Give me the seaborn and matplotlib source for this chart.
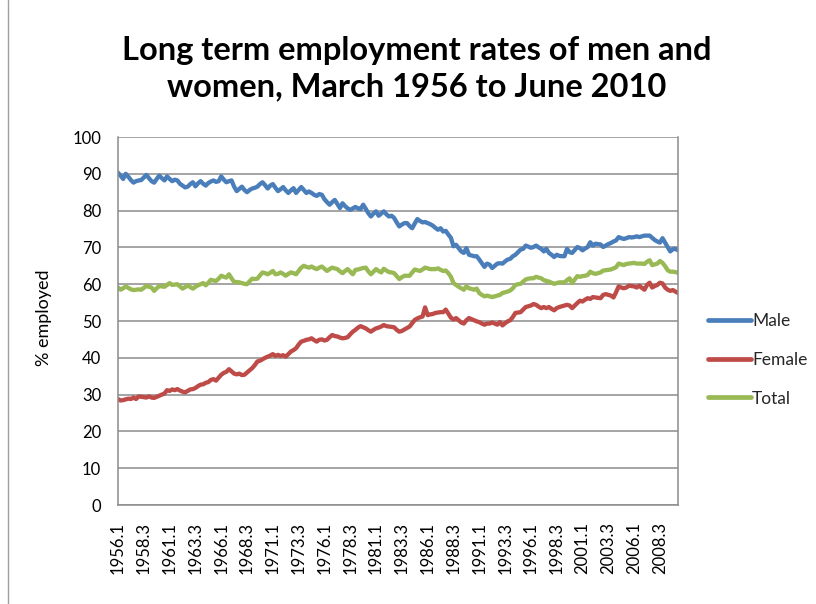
import matplotlib
matplotlib.use("Agg")
import matplotlib.pyplot as plt
import seaborn as sns
import pandas as pd
from matplotlib.lines import Line2D

# ---- data (quarterly, March 1956 .. June 2010) ----
male = [
    90.3, 89.5, 88.6, 90.0, 89.2, 88.3, 87.6, 88.0, 88.2, 88.3,
    89.0, 89.7, 88.8, 88.0, 87.6, 88.6, 89.5, 88.8, 88.2, 89.3,
    88.6, 88.0, 88.4, 88.2, 87.3, 86.8, 86.3, 86.5, 87.2, 87.7,
    86.6, 87.4, 88.0, 87.3, 86.8, 87.5, 87.9, 88.2, 87.8, 88.0,
    89.3, 88.4, 87.7, 88.0, 88.2, 86.5, 85.3, 85.9, 86.5, 85.6,
    85.0, 85.6, 86.0, 86.2, 86.5, 87.2, 87.7, 86.9, 86.0, 86.8,
    87.2, 86.2, 85.3, 85.8, 86.4, 85.5, 84.8, 85.5, 86.1, 84.8,
    85.6, 86.4, 85.6, 84.8, 85.2, 84.8, 84.3, 84.0, 84.5, 84.3,
    83.1, 82.3, 81.6, 82.3, 82.9, 81.8, 80.7, 82.0, 81.2, 80.6,
    80.2, 80.6, 81.0, 80.6, 80.4, 81.6, 80.5, 79.3, 78.4, 79.2,
    79.8, 78.6, 79.2, 79.8, 79.0, 78.4, 78.6, 78.0, 76.8, 75.7,
    76.2, 76.6, 76.6, 75.8, 75.2, 76.5, 77.7, 77.2, 76.8, 76.9,
    76.6, 76.3, 75.9, 75.3, 74.8, 75.2, 74.3, 74.5, 73.5, 72.6,
    70.3, 70.7, 69.8, 68.9, 68.5, 69.8, 68.0, 67.8, 67.6, 67.6,
    66.7, 65.7, 64.7, 65.6, 65.3, 64.4, 65.0, 65.6, 65.7, 65.6,
    66.2, 66.7, 66.9, 67.6, 68.0, 68.7, 69.4, 69.6, 70.5, 70.2,
    69.9, 70.1, 70.5, 70.0, 69.6, 68.9, 69.6, 68.5, 68.0, 67.4,
    68.0, 67.7, 67.6, 67.6, 69.6, 68.7, 68.5, 69.3, 70.1, 69.8,
    69.2, 69.7, 70.1, 71.4, 70.5, 71.0, 70.9, 70.8, 70.1, 70.5,
    70.9, 71.2, 71.6, 71.9, 72.8, 72.5, 72.3, 72.5, 72.8, 72.7,
    72.8, 73.0, 72.8, 73.0, 73.2, 73.2, 73.2, 72.6, 72.0, 71.6,
    71.3, 72.5, 71.3, 70.1, 68.9, 69.5, 69.6, 69.2,
]
female = [
    28.8, 28.4, 28.5, 28.7, 28.9, 28.8, 29.2, 28.8, 29.5, 29.4,
    29.3, 29.2, 29.5, 29.2, 29.1, 29.4, 29.7, 30.0, 30.3, 31.2,
    31.0, 31.4, 31.2, 31.5, 31.1, 30.8, 30.6, 31.0, 31.4, 31.5,
    31.8, 32.3, 32.7, 32.8, 33.2, 33.4, 34.0, 34.2, 33.8, 34.6,
    35.4, 35.9, 36.2, 36.9, 36.3, 35.7, 35.5, 35.7, 35.3, 35.4,
    36.0, 36.6, 37.2, 38.0, 39.0, 39.2, 39.6, 40.0, 40.3, 40.6,
    41.0, 40.5, 40.8, 40.5, 40.7, 40.3, 41.0, 41.7, 42.1, 42.6,
    43.6, 44.4, 44.6, 44.9, 45.0, 45.3, 44.8, 44.4, 44.9, 45.0,
    44.7, 44.9, 45.6, 46.2, 45.9, 45.8, 45.5, 45.3, 45.4, 45.6,
    46.4, 47.1, 47.6, 48.2, 48.6, 48.3, 48.0, 47.5, 47.1, 47.6,
    48.0, 48.2, 48.5, 48.9, 48.6, 48.5, 48.4, 48.3, 47.6, 47.1,
    47.3, 47.7, 48.1, 48.5, 49.4, 50.3, 50.7, 51.0, 51.2, 53.7,
    51.6, 51.8, 51.9, 52.2, 52.3, 52.4, 52.4, 53.1, 52.0, 50.9,
    50.4, 50.8, 50.2, 49.6, 49.3, 50.2, 50.8, 50.5, 50.2, 49.9,
    49.7, 49.3, 49.0, 49.3, 49.3, 49.6, 49.3, 49.0, 49.7, 48.8,
    49.4, 49.9, 50.2, 51.1, 52.2, 52.3, 52.4, 53.1, 53.8, 54.0,
    54.2, 54.6, 54.4, 53.9, 53.5, 53.8, 53.5, 53.8, 53.3, 52.9,
    53.5, 53.8, 54.0, 54.2, 54.4, 54.2, 53.5, 54.2, 54.9, 55.5,
    55.3, 55.8, 56.2, 56.0, 56.5, 56.4, 56.3, 56.2, 57.1, 57.3,
    57.1, 56.9, 56.4, 57.8, 59.4, 59.1, 58.9, 59.1, 59.6, 59.5,
    59.4, 59.1, 59.6, 59.0, 58.5, 59.8, 60.4, 59.1, 59.5, 59.8,
    60.4, 60.2, 59.1, 58.5, 58.2, 58.4, 58.0, 57.6,
]
total = [
    59.1, 58.5, 58.9, 59.4, 59.0, 58.6, 58.4, 58.5, 58.6, 58.5,
    59.0, 59.5, 59.3, 59.1, 58.2, 58.9, 59.5, 59.4, 59.3, 59.8,
    60.3, 59.8, 59.9, 60.0, 59.4, 58.8, 59.2, 59.7, 59.2, 58.8,
    59.3, 59.7, 60.0, 60.3, 59.7, 60.4, 61.2, 61.0, 60.9, 61.5,
    62.3, 62.0, 61.8, 62.7, 61.6, 60.6, 60.6, 60.5, 60.3, 60.1,
    60.0, 60.8, 61.5, 61.4, 61.5, 62.4, 63.2, 63.0, 62.7, 63.1,
    63.6, 62.7, 62.8, 63.2, 62.8, 62.3, 62.8, 63.2, 63.0, 62.7,
    63.6, 64.5, 65.0, 64.7, 64.5, 64.8, 64.4, 64.1, 64.5, 64.8,
    64.2, 63.6, 64.1, 64.5, 64.3, 64.1, 63.5, 63.0, 63.6, 64.1,
    63.4, 62.7, 63.9, 64.0, 64.2, 64.4, 64.5, 63.5, 62.7, 63.4,
    64.1, 63.6, 63.2, 64.2, 63.7, 63.3, 63.2, 63.0, 62.2, 61.4,
    61.9, 62.3, 62.3, 62.3, 63.2, 64.0, 63.8, 63.6, 64.0, 64.5,
    64.3, 64.1, 64.1, 64.1, 64.3, 63.9, 63.6, 63.7, 63.0, 62.0,
    60.3, 59.8, 59.3, 58.9, 58.5, 59.4, 58.9, 58.7, 58.5, 58.8,
    57.6, 57.1, 56.7, 56.9, 56.7, 56.5, 56.7, 56.9, 57.1, 57.6,
    57.8, 58.0, 58.3, 58.9, 59.8, 60.0, 60.1, 60.7, 61.3, 61.5,
    61.6, 61.6, 62.0, 61.8, 61.6, 61.1, 60.9, 60.7, 60.4, 60.1,
    60.3, 60.5, 60.5, 60.5, 61.1, 61.6, 60.3, 61.3, 62.2, 62.0,
    62.2, 62.3, 62.5, 63.4, 63.0, 62.8, 63.0, 63.2, 63.7, 63.8,
    63.9, 64.0, 64.3, 64.6, 65.6, 65.4, 65.2, 65.5, 65.6, 65.7,
    65.8, 65.6, 65.6, 65.6, 65.5, 66.1, 66.5, 65.2, 65.4, 65.6,
    66.3, 65.8, 64.9, 63.8, 63.4, 63.4, 63.3, 63.1,
]
series_names = ["Male", "Female", "Total"]
series_colors = ["#4A7EBB", "#BE4B48", "#98B954"]
tick_labels = ["1956.1", "1958.3", "1961.1", "1963.3", "1966.1", "1968.3",
               "1971.1", "1973.3", "1976.1", "1978.3", "1981.1", "1983.3",
               "1986.1", "1988.3", "1991.1", "1993.3", "1996.1", "1998.3",
               "2001.1", "2003.3", "2006.1", "2008.3"]
y_ticks = [0, 10, 20, 30, 40, 50, 60, 70, 80, 90, 100]

# ---- build long table ----
frames = []
for name, vals in zip(series_names, [male, female, total]):
    frames.append(pd.DataFrame({"q": range(len(vals)), "value": vals, "series": name}))
df = pd.concat(frames, ignore_index=True)

sns.set_theme(style="white")
plt.rcParams["font.family"] = ["Lato", "DejaVu Sans"]

fig = plt.figure(figsize=(8.16, 6.04), dpi=100)
ax = fig.add_axes([118 / 816, 1 - 505 / 604, (678 - 118) / 816, (505 - 137) / 604])

palette = dict(zip(series_names, series_colors))
sns.lineplot(data=df, x="q", y="value", hue="series", palette=palette,
             hue_order=series_names, linewidth=3.1, ax=ax, legend=False)

n = len(male)
ax.set_xlim(0, n - 1)
ax.set_ylim(0, 100)
ax.set_yticks(y_ticks)
ax.set_yticklabels([str(v) for v in y_ticks], fontsize=12, color="#000000")
ax.set_xticks(list(range(0, 10 * len(tick_labels), 10)))
ax.set_xticklabels(tick_labels, rotation=90, fontsize=12, color="#000000")
ax.tick_params(axis="y", length=0, pad=12)
ax.tick_params(axis="x", length=0, pad=12)
ax.set_xlabel("")
ax.set_ylabel("")
ax.grid(axis="y", color="#8C8C8C", linewidth=1.1)
ax.set_axisbelow(True)
for side in ["left", "bottom", "right"]:
    ax.spines[side].set_visible(True)
    ax.spines[side].set_color("#8C8C8C")
    ax.spines[side].set_linewidth(1.1)
ax.spines["top"].set_visible(False)

fig.text(44 / 816, 1 - 318 / 604, "% employed", rotation=90, ha="center",
         va="center", fontsize=13, color="#000000")

fig.text(417 / 816, 1 - 69 / 604,
         "Long term employment rates of men and\nwomen, March 1956 to June 2010",
         ha="center", va="center", fontsize=23.5, fontweight="bold",
         linespacing=1.3, color="#000000")

handles = [Line2D([0], [0], color=c, linewidth=3.4) for c in series_colors]
fig.legend(handles, series_names, loc="center left",
           bbox_to_anchor=(699 / 816, 1 - 360 / 604), frameon=False,
           fontsize=12.5, handlelength=2.5, handletextpad=0.05,
           labelspacing=1.3, borderpad=0)

fig.add_artist(Line2D([8 / 816, 8 / 816], [0, 1], transform=fig.transFigure,
                      color="#A0A0A0", linewidth=1.0))

fig.savefig("out.png", dpi=100)
